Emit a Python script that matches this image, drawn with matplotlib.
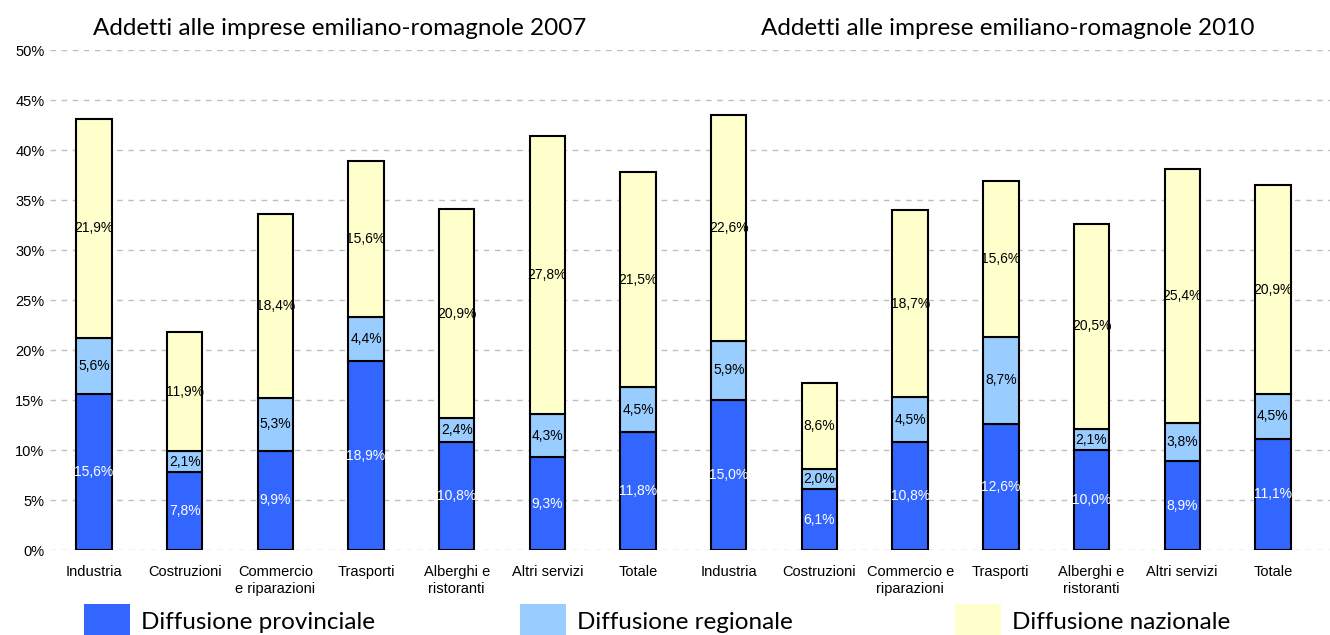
import matplotlib.pyplot as plt
import numpy as np
from matplotlib.patches import Rectangle

# dati
categorie_2007 = ["Industria", "Costruzioni", "Commercio\ne riparazioni", "Trasporti",
                  "Alberghi e\nristoranti", "Altri servizi", "Totale"]
categorie_2010 = ["Industria", "Costruzioni", "Commercio e\nriparazioni", "Trasporti",
                  "Alberghi e\nristoranti", "Altri servizi", "Totale"]

prov_2007 = [15.6, 7.8, 9.9, 18.9, 10.8, 9.3, 11.8]
reg_2007 = [5.6, 2.1, 5.3, 4.4, 2.4, 4.3, 4.5]
naz_2007 = [21.9, 11.9, 18.4, 15.6, 20.9, 27.8, 21.5]

prov_2010 = [15.0, 6.1, 10.8, 12.6, 10.0, 8.9, 11.1]
reg_2010 = [5.9, 2.0, 4.5, 8.7, 2.1, 3.8, 4.5]
naz_2010 = [22.6, 8.6, 18.7, 15.6, 20.5, 25.4, 20.9]

titoli = ["Addetti alle imprese emiliano-romagnole 2007",
          "Addetti alle imprese emiliano-romagnole 2010"]
serie_nomi = ["Diffusione provinciale", "Diffusione regionale", "Diffusione nazionale"]
colori = ["#3366FF", "#99CCFF", "#FFFFCC"]

plt.rcParams['font.family'] = ['Liberation Sans', 'DejaVu Sans']
TITLE_FONT = ['Lato', 'DejaVu Sans']

W, H = 1330, 635
fig = plt.figure(figsize=(W / 100, H / 100), dpi=100)
ax = fig.add_axes([50 / W, 85 / H, (W - 50) / W, 500 / H])

prov = np.array(prov_2007 + prov_2010)
reg = np.array(reg_2007 + reg_2010)
naz = np.array(naz_2007 + naz_2010)
x = np.arange(len(prov))
larg = 0.39

def pct(vals):
    return [f"{v:.1f}%".replace(".", ",") for v in vals]

b1 = ax.bar(x, prov, larg, color=colori[0], edgecolor="black", linewidth=1.5, zorder=3)
b2 = ax.bar(x, reg, larg, bottom=prov, color=colori[1], edgecolor="black", linewidth=1.5, zorder=3)
b3 = ax.bar(x, naz, larg, bottom=prov + reg, color=colori[2], edgecolor="black", linewidth=1.5, zorder=3)

ax.bar_label(b1, labels=pct(prov), label_type="center", color="white", fontsize=10, zorder=4)
ax.bar_label(b2, labels=pct(reg), label_type="center", color="black", fontsize=10, zorder=4)
ax.bar_label(b3, labels=pct(naz), label_type="center", color="black", fontsize=10, zorder=4)

ax.set_xlim(-0.485, 13.63)
ax.set_ylim(0, 50)
ax.set_yticks(np.arange(0, 51, 5))
ax.set_yticklabels([f"{v}%" for v in range(0, 51, 5)], fontsize=10.5)
ax.set_xticks(x)
ax.set_xticklabels(categorie_2007 + categorie_2010, fontsize=10.5, linespacing=1.25)
ax.tick_params(axis="x", length=0, pad=11)
ax.tick_params(axis="y", length=0, pad=4)
ax.yaxis.grid(True, color="#BFBFBF", linestyle=(0, (4, 4)), linewidth=1, zorder=0)
for s in ax.spines.values():
    s.set_visible(False)

# titoli dei due pannelli
fig.text(340 / W, 1 - 35 / H, titoli[0], ha="center", va="baseline", fontsize=17.5, family=TITLE_FONT)
fig.text(1008 / W, 1 - 35 / H, titoli[1], ha="center", va="baseline", fontsize=17.5, family=TITLE_FONT)

# legenda manuale
leg_x = [84, 520, 955]
for xs, nome, col in zip(leg_x, serie_nomi, colori):
    fig.add_artist(Rectangle((xs / W, 0), 46 / W, 31 / H, transform=fig.transFigure,
                             facecolor=col, edgecolor="none"))
    fig.text((xs + 57) / W, 1 - 629 / H, nome, ha="left", va="baseline", fontsize=17.5,
             family=TITLE_FONT)

fig.savefig("out.png", dpi=100)
